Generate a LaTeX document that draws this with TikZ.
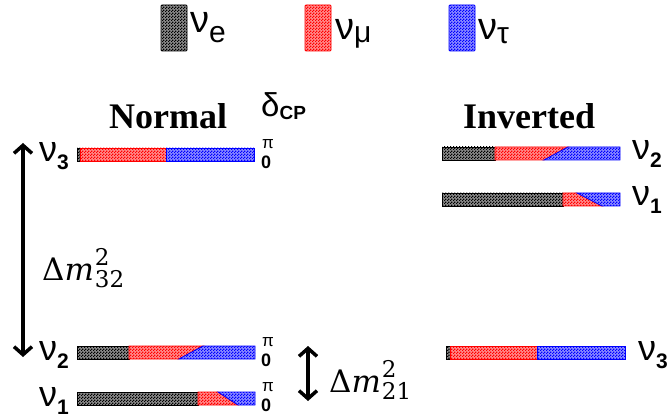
\documentclass[tikz,border=0pt]{standalone}
\usepackage{fontspec}
\setmainfont{Liberation Serif}
\newfontfamily\nufont{Liberation Sans}
\newfontfamily\dmfont{DejaVu Serif}
\usetikzlibrary{arrows.meta,patterns}
\definecolor{nue}{HTML}{000000}
\definecolor{numu}{HTML}{FF0000}
\definecolor{nutau}{HTML}{0000FF}

\pgfdeclarepatternformonly{finecheck}{\pgfpointorigin}{\pgfqpoint{3pt}{3pt}}{\pgfqpoint{3pt}{3pt}}{%
  \pgfpathrectangle{\pgfpointorigin}{\pgfqpoint{1.5pt}{1.5pt}}%
  \pgfpathrectangle{\pgfqpoint{1.5pt}{1.5pt}}{\pgfqpoint{1.5pt}{1.5pt}}%
  \pgfusepath{fill}}

% mass eigenstate bar: y, x0, e|mu edge, mu|tau edge (top, bottom), x1
\newcommand{\nubar}[6]{%
  \path[flav=nue] (#2,#1) rectangle (#3,{#1+13});
  \path[flav=numu] (#3,#1) -- (#4,#1) -- (#5,{#1+13}) -- (#3,{#1+13}) -- cycle;
  \path[flav=nutau] (#4,#1) -- (#6,#1) -- (#6,{#1+13}) -- (#5,{#1+13}) -- cycle;
}
\newcommand{\nulabel}[1]{{\fontsize{36}{36}\selectfont ν}\raisebox{-8pt}{\bfseries\fontsize{21}{21}\selectfont #1}}
\newcommand{\dmsq}[1]{Δ\textit{m}\kern1pt\rlap{\raisebox{15pt}{\fontsize{23}{23}\selectfont 2}}\raisebox{-7pt}{\fontsize{23}{23}\selectfont #1}}

\begin{document}
\begin{tikzpicture}[x=1pt,y=-1pt,
  flav/.style={draw=#1, line width=0.8pt, fill=#1!45,
    postaction={pattern=finecheck, pattern color=#1}},
  swatch/.style={flav=#1, rounded corners=1pt, minimum width=26pt, minimum height=46pt, inner sep=0pt},
  nulab/.style={font=\nufont, anchor=base west, inner sep=0pt},
  leg/.style={font=\nufont\fontsize{38}{38}\selectfont, anchor=base west, inner sep=0pt},
  head/.style={font=\bfseries\fontsize{36}{36}\selectfont, anchor=base west, inner sep=0pt},
  phase/.style={font=\nufont\fontsize{17}{17}\selectfont, anchor=base west, inner sep=0pt},
  zero/.style={font=\nufont\bfseries\fontsize{18}{18}\selectfont, anchor=base west, inner sep=0pt},
  dm/.style={line width=3.5pt, {Straight Barb[length=8pt,width=18pt]}-{Straight Barb[length=8pt,width=18pt]}},
  dmlab/.style={font=\dmfont\fontsize{31}{31}\selectfont, anchor=base west, inner sep=0pt}]
  \useasboundingbox (0,0) rectangle (670,417);

  \node[swatch=nue] (swe) at (174,28) {};
  \node[leg] (lege) at (190,33) {ν\raisebox{-10pt}{\fontsize{30}{30}\selectfont e}};
  \node[swatch=numu] (swmu) at (318,28) {};
  \node[leg] (legmu) at (335,40) {ν\raisebox{-3pt}{\fontsize{30}{30}\selectfont μ}};
  \node[swatch=nutau] (swtau) at (462,28) {};
  \node[leg] (legtau) at (478,40) {ν\raisebox{-4pt}{\fontsize{30}{30}\selectfont τ}};

  \node[head] (normal) at (109,129) {Normal};
  \node[head] (inverted) at (463,129) {Inverted};
  \node[nulab] (dcp) at (261,117) {{\fontsize{33}{33}\selectfont δ}\raisebox{-3pt}{\bfseries\fontsize{19}{19}\selectfont CP}};

  \nubar{148}{77}{80}{166}{166}{254}
  \nubar{346}{77}{129}{203}{179}{255}
  \nubar{392}{77}{198}{218}{238}{255}
  \nubar{147}{442}{495}{568}{544}{620}
  \nubar{193}{442}{563}{577}{602}{620}
  \nubar{346}{446}{450}{537}{537}{625}

  \node[nulab] (n3) at (39,162) {\nulabel{3}};
  \node[nulab] (n2) at (39,360) {\nulabel{2}};
  \node[nulab] (n1) at (39,406) {\nulabel{1}};
  \node[nulab] (i2) at (632,160) {\nulabel{2}};
  \node[nulab] (i1) at (632,206) {\nulabel{1}};
  \node[nulab] (i3) at (638,360) {\nulabel{3}};

  \node[phase] (pi3) at (262,149) {π};
  \node[zero] (z3) at (261,169) {0};
  \node[phase] (pi2) at (262,346) {π};
  \node[zero] (z2) at (261,366) {0};
  \node[phase] (pi1) at (262,391) {π};
  \node[zero] (z1) at (261,411) {0};

  \coordinate (top32) at (23,143);
  \coordinate (bot32) at (23,357);
  \draw[dm] (top32) -- (bot32);
  \node[dmlab] (dm32) at (42,280) {\dmsq{32}};

  \coordinate (top21) at (308,346);
  \coordinate (bot21) at (308,401);
  \draw[dm] (top21) -- (bot21);
  \node[dmlab] (dm21) at (329,392) {\dmsq{21}};
\end{tikzpicture}
\end{document}
